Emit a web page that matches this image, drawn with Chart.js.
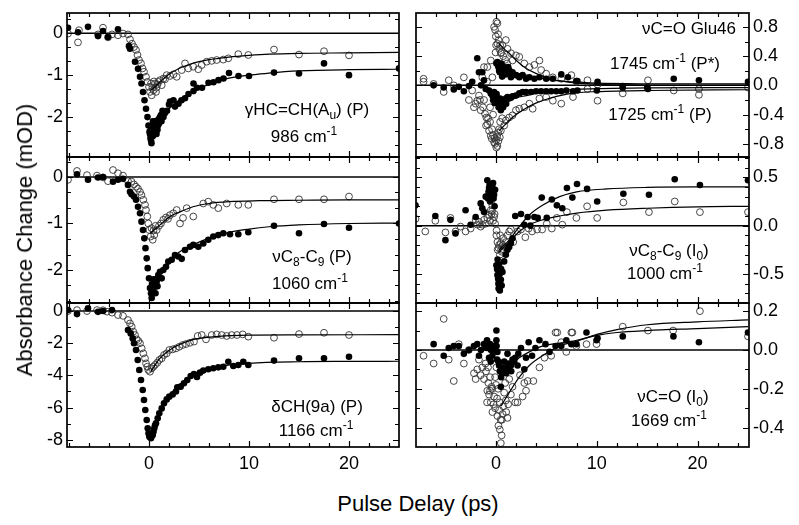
<!DOCTYPE html>
<html><head><meta charset="utf-8">
<script src="https://cdn.jsdelivr.net/npm/chart.js@4.4.0/dist/chart.umd.min.js"></script>
<style>
html,body{margin:0;padding:0;background:#fff;}
#wrap{position:relative;width:799px;height:525px;overflow:hidden;font-family:"Liberation Sans",Arial,sans-serif;color:#000;background:#fff;}
canvas{position:absolute;}
.ann{position:absolute;white-space:nowrap;font-size:17px;line-height:17px;transform:translateX(-50%);}
.ann sub,.ann sup{font-size:12px;line-height:0;position:relative;vertical-align:baseline;}
.ann sub{top:4px;}
.ann sup{top:-7px;}
.title{position:absolute;white-space:nowrap;font-size:22px;line-height:22px;}
</style></head>
<body><div id="wrap">
<canvas id="cL1"></canvas><canvas id="cL2"></canvas><canvas id="cL3"></canvas>
<canvas id="cR1"></canvas><canvas id="cR2"></canvas><canvas id="cR3"></canvas>
<div class="ann" style="left:307px;top:101px">γHC=CH(A<sub>u</sub>) (P)</div>
<div class="ann" style="left:304px;top:128px">986 cm<sup>-1</sup></div>
<div class="ann" style="left:312px;top:248px">νC<sub>8</sub>-C<sub>9</sub> (P)</div>
<div class="ann" style="left:310px;top:275px">1060 cm<sup>-1</sup></div>
<div class="ann" style="left:317px;top:398px">δCH(9a) (P)</div>
<div class="ann" style="left:316px;top:422px">1166 cm<sup>-1</sup></div>
<div class="ann" style="left:689px;top:20px">νC=O Glu46</div>
<div class="ann" style="left:665px;top:55px">1745 cm<sup>-1</sup> (P*)</div>
<div class="ann" style="left:660px;top:106px">1725 cm<sup>-1</sup> (P)</div>
<div class="ann" style="left:669px;top:242px">νC<sub>8</sub>-C<sub>9</sub> (I<sub>0</sub>)</div>
<div class="ann" style="left:665px;top:265px">1000 cm<sup>-1</sup></div>
<div class="ann" style="left:673px;top:388px">νC=O (I<sub>0</sub>)</div>
<div class="ann" style="left:669px;top:412px">1669 cm<sup>-1</sup></div>
<div class="title" style="left:25px;top:240px;transform:translate(-50%,-50%) rotate(-90deg);">Absorbance Change (mOD)</div>
<div class="title" style="left:418px;top:493px;transform:translateX(-50%);">Pulse Delay (ps)</div>
</div>
<script>
// ---------- tick values ----------
const xMajor = [0, 10, 20];
const xMinor = [-8, -6, -4, -2, 2, 4, 6, 8, 12, 14, 16, 18, 22, 24];
const L1Major = [0, -1, -2];
const L1Minor = [0.333, -0.333, -0.667, -1.333, -1.667, -2.333, -2.667];
const L2Major = [0, -1, -2];
const L2Minor = [0.333, -0.333, -0.667, -1.333, -1.667, -2.333, -2.667];
const L3Major = [0, -2, -4, -6, -8];
const L3Minor = [-1, -3, -5, -7];
const R1Major = [0.8, 0.4, 0, -0.4, -0.8];
const R1Minor = [0.6, 0.2, -0.2, -0.6];
const R2Major = [0.5, 0, -0.5];
const R2Minor = [0.7, 0.6, 0.4, 0.3, 0.2, 0.1, -0.1, -0.2, -0.3, -0.4, -0.6, -0.7];
const R3Major = [0.2, 0, -0.2, -0.4];
const R3Minor = [0.1, -0.1, -0.3];

// ---------- data: [delay ps, absorbance change] ----------
// Left 1: gamma HC=CH (986 cm-1)
const L1Filled = [[-8.1,0.13],[-7.1,0.02],[-6.1,0.15],[-5.1,-0.07],[-4.6,0.05],[-4.1,-0.09],[-3.1,0.09],
[-2.0,-0.31],[-1.9,-0.37],[-1.4,-0.68],[-1.1,-0.85],[-0.9,-1.04],[-0.75,-1.2],[-0.6,-1.4],[-0.45,-1.6],[-0.3,-1.8],
[-0.15,-2.0],[-0.05,-2.2],[0.05,-2.35],[0.1,-2.4],[0.15,-2.5],[0.2,-2.3],[0.2,-2.55],[0.25,-2.62],[0.3,-2.45],
[0.3,-2.2],[0.35,-2.3],[0.4,-2.45],[0.4,-2.1],[0.45,-2.2],[0.5,-2.28],[0.55,-2.38],[0.6,-2.1],[0.65,-2.25],
[0.7,-2.3],[0.75,-2.4],[0.8,-2.15],[0.85,-2.3],[0.9,-2.2],[0.95,-2.05],[1.0,-2.15],[1.1,-2.0],[1.2,-1.95],
[1.25,-2.1],[1.35,-1.85],[1.45,-2.0],[1.6,-1.9],[1.8,-1.85],[2.0,-1.7],[2.1,-1.63],[2.45,-1.6],[2.6,-1.75],
[2.95,-1.68],[3.25,-1.6],[3.6,-1.55],[3.95,-1.45],[4.45,-1.38],[4.45,-1.2],[4.8,-1.3],[5.3,-1.3],[5.95,-1.18],
[6.45,-1.17],[6.95,-1.12],[7.45,-1.08],[8.0,-0.95],[8.95,-1.02],[10.0,-1.02],[12.5,-0.94],[15,-0.96],[17.5,-0.72],
[20,-1.0],[25,-0.84]];
const L1Open = [[-8.1,-0.01],[-7.1,-0.22],[-7.0,0.07],[-5.1,-0.03],[-4.6,0.13],[-4.1,-0.1],[-3.7,-0.03],[-3.1,-0.05],
[-2.6,-0.01],[-2.1,-0.03],[-1.9,-0.15],[-1.7,-0.25],[-1.5,-0.33],[-1.3,-0.4],[-1.15,-0.52],[-1.0,-0.64],[-0.8,-0.72],
[-0.65,-0.84],[-0.5,-0.92],[-0.3,-1.04],[-0.15,-1.16],[0.0,-1.28],[0.1,-1.4],[0.2,-1.2],[0.27,-1.48],[0.35,-1.3],
[0.45,-1.36],[0.5,-1.15],[0.6,-1.2],[0.7,-1.4],[0.75,-1.3],[0.85,-1.22],[0.93,-1.16],[1.1,-1.12],[1.27,-1.24],
[1.45,-1.08],[1.6,-1.1],[1.77,-1.0],[2.1,-1.02],[2.45,-0.98],[2.77,-1.04],[3.27,-0.88],[3.6,-0.72],[3.93,-0.84],
[4.43,-0.8],[4.93,-0.86],[5.27,-0.76],[5.77,-0.68],[6.27,-0.66],[6.77,-0.64],[7.43,-0.63],[7.93,-0.6],[8.93,-0.5],
[9.93,-0.52],[12.5,-0.39],[15,-0.51],[17.5,-0.43],[20,-0.53]];
const L1FitFilled = [[0.6,-2.25],[1.0,-2.08],[1.5,-1.95],[2,-1.8],[3,-1.6],[4,-1.44],[5,-1.32],[6,-1.22],[7,-1.13],
[8,-1.07],[9,-1.03],[10,-1.0],[12,-0.95],[15,-0.9],[20,-0.87],[25,-0.86]];
const L1FitOpen = [[0.2,-1.35],[0.5,-1.3],[1,-1.18],[1.5,-1.08],[2,-0.98],[3,-0.84],[4,-0.75],[5,-0.68],[6,-0.63],
[7,-0.6],[8,-0.57],[10,-0.53],[12,-0.5],[15,-0.48],[20,-0.47],[25,-0.46]];

// Left 2: nu C8-C9 (1060 cm-1)
const L2Filled = [[-7.2,0.06],[-6.1,-0.06],[-5.1,-0.01],[-4.6,0.0],[-3.6,-0.1],[-3.1,-0.06],[-2.6,-0.04],[-2.1,-0.17],
[-1.9,-0.32],[-1.75,-0.37],[-1.5,-0.42],[-1.3,-0.49],[-1.1,-0.64],[-0.9,-0.78],[-0.75,-0.96],[-0.6,-1.14],[-0.47,-1.32],
[-0.35,-1.53],[-0.23,-1.75],[-0.13,-1.96],[0.0,-2.18],[0.1,-2.39],[0.2,-2.5],[0.27,-2.6],[0.3,-2.3],[0.35,-2.45],
[0.43,-2.47],[0.45,-2.2],[0.5,-2.3],[0.6,-2.36],[0.65,-2.5],[0.7,-2.2],[0.77,-2.25],[0.85,-2.35],[0.93,-2.11],
[1.1,-2.04],[1.27,-2.18],[1.43,-2.0],[1.7,-1.93],[1.93,-1.82],[2.27,-1.78],[2.6,-1.68],[2.93,-1.71],[3.27,-1.76],
[3.6,-1.57],[4.1,-1.5],[4.43,-1.46],[4.93,-1.5],[5.43,-1.43],[5.93,-1.35],[6.43,-1.28],[6.93,-1.25],[7.43,-1.21],
[8.1,-1.23],[8.93,-1.23],[9.93,-1.19],[12.5,-1.05],[15,-1.21],[17.5,-1.01],[20,-1.09],[25,-1.0]];
const L2Open = [[-8.1,-0.06],[-7.2,0.13],[-6.2,0.04],[-5.2,0.03],[-4.6,-0.01],[-4.1,-0.09],[-3.6,0.15],[-3.1,0.08],
[-2.6,0.03],[-2.1,-0.09],[-1.75,-0.1],[-1.5,-0.16],[-1.3,-0.21],[-1.1,-0.25],[-0.9,-0.32],[-0.75,-0.39],[-0.57,-0.49],
[-0.4,-0.6],[-0.3,-0.71],[-0.17,-0.85],[-0.07,-1.0],[0.03,-1.14],[0.17,-1.28],[0.25,-1.1],[0.37,-1.35],[0.45,-1.15],
[0.53,-1.25],[0.65,-1.05],[0.77,-1.14],[1.0,-1.05],[1.2,-1.0],[1.43,-0.92],[1.7,-0.87],[1.9,-0.9],[2.1,-0.82],
[2.43,-0.78],[2.77,-0.71],[3.1,-1.0],[3.4,-0.88],[3.77,-0.67],[4.43,-0.85],[5.43,-0.57],[5.93,-0.53],[6.43,-0.6],
[6.93,-0.67],[7.77,-0.57],[8.93,-0.6],[9.93,-0.6],[12.5,-0.48],[15,-0.48],[17.5,-0.48],[20,-0.42]];
const L2FitFilled = [[0.8,-2.15],[1.1,-2.04],[2,-1.8],[3,-1.62],[4,-1.5],[5,-1.4],[6,-1.32],[7,-1.25],[8,-1.19],
[10,-1.12],[12,-1.07],[15,-1.03],[20,-1.0],[25,-0.99]];
const L2FitOpen = [[0.1,-1.21],[0.5,-1.14],[1.1,-1.03],[2.1,-0.85],[3.1,-0.75],[4.4,-0.64],[6,-0.57],[8,-0.53],
[11,-0.51],[15,-0.5],[20,-0.49],[25,-0.49]];

// Left 3: delta CH(9a) (1166 cm-1)
const L3Filled = [[-8.1,0.06],[-7.2,-0.19],[-6.1,0.17],[-5.1,-0.05],[-4.6,0.0],[-3.7,0.06],[-2.1,-1.18],[-1.83,-1.39],
[-1.63,-1.7],[-1.5,-2.0],[-1.3,-2.42],[-1.13,-3.04],[-0.97,-3.66],[-0.8,-4.29],[-0.63,-4.91],[-0.5,-5.53],[-0.37,-6.15],
[-0.23,-6.77],[-0.13,-7.29],[-0.05,-7.6],[0.03,-7.8],[0.1,-7.85],[0.2,-7.9],[0.3,-7.75],[0.37,-7.7],[0.45,-7.5],
[0.53,-7.29],[0.6,-7.1],[0.7,-6.98],[0.87,-6.67],[1.03,-6.36],[1.27,-6.05],[1.5,-5.73],[1.77,-5.49],[2.03,-5.32],
[2.37,-5.18],[2.7,-5.0],[2.83,-4.74],[3.17,-4.7],[3.5,-4.49],[3.83,-4.29],[4.17,-4.04],[4.5,-3.91],[4.8,-4.1],
[5.1,-3.83],[5.43,-3.7],[5.93,-3.62],[6.43,-3.56],[6.93,-3.5],[7.43,-3.46],[7.93,-3.15],[8.43,-3.42],[8.93,-3.35],
[9.43,-3.15],[9.93,-3.35],[12.5,-3.08],[15,-2.94],[17.5,-2.94],[20,-2.84]];
const L3Open = [[-8.1,0.0],[-7.2,0.06],[-6.2,0.0],[-5.2,0.06],[-4.6,0.05],[-4.2,-0.04],[-3.7,-0.1],[-3.1,-0.25],
[-2.6,-0.3],[-2.1,-0.56],[-1.9,-0.77],[-1.73,-0.97],[-1.57,-1.28],[-1.4,-1.49],[-1.23,-1.76],[-1.07,-1.85],[-0.9,-2.0],
[-0.73,-2.32],[-0.57,-2.63],[-0.4,-2.94],[-0.3,-3.25],[-0.17,-3.46],[-0.07,-3.66],[0.1,-3.77],[0.27,-3.56],[0.43,-3.46],
[0.6,-3.35],[0.83,-3.21],[1.03,-3.04],[1.27,-2.94],[1.5,-2.73],[1.77,-2.63],[2.03,-2.42],[2.37,-2.38],[2.7,-2.32],
[3.03,-2.22],[3.37,-2.11],[3.7,-2.05],[4.1,-1.97],[4.5,-1.9],[4.87,-1.55],[5.27,-1.49],[5.7,-1.76],[6.27,-1.49],
[6.77,-1.45],[7.27,-1.49],[7.77,-1.55],[8.27,-1.49],[8.8,-1.49],[9.37,-1.45],[9.93,-1.59],[12.5,-1.66],[15,-1.43],
[17.5,-1.35],[20,-1.49]];
const L3FitFilled = [[0.3,-7.85],[1,-6.4],[2,-5.3],[3,-4.6],[4,-4.1],[5,-3.8],[7,-3.45],[10,-3.25],[15,-3.15],
[20,-3.13],[25,-3.12]];
const L3FitOpen = [[0.2,-3.75],[1,-3.0],[2,-2.45],[3,-2.1],[4,-1.85],[5,-1.7],[7,-1.57],[10,-1.5],[15,-1.48],[25,-1.47]];

// Right 1: nu C=O Glu46 (1745 / 1725 cm-1)
const R1Filled = [[-6.2,0.0],[-5.2,-0.03],[-4.2,-0.055],[-3.7,-0.02],[-3.2,-0.08],[-2.7,-0.01],[-2.37,0.05],[-1.87,0.37],
[-1.7,0.18],[-1.5,0.0],[-1.37,0.18],[-1.2,0.07],[-1.03,-0.05],[-0.7,-0.07],[-0.53,-0.11],[-0.37,-0.14],[-0.3,-0.2],
[-0.2,-0.09],[-0.15,-0.24],[-0.1,-0.15],[0.03,0.3],[0.05,-0.12],[0.13,0.32],[0.2,0.28],[0.23,0.25],[0.3,0.2],
[0.37,0.18],[0.47,0.23],[0.5,0.3],[0.6,0.12],[0.63,0.16],[0.7,0.26],[0.8,0.21],[0.9,0.15],[0.97,0.23],[1.13,0.16],
[1.2,0.25],[1.3,0.21],[1.47,0.11],[1.63,0.18],[1.97,0.14],[2.3,0.11],[2.63,0.14],[2.97,0.09],[3.3,0.11],[3.8,0.09],
[4.3,0.11],[4.97,0.09],[5.63,0.09],[6.47,0.15],[7.13,0.11],[7.97,0.06],[8.07,0.06],[10.07,0.05],[12.57,-0.01],
[15.07,-0.05],[17.63,0.09],[20.13,0.07],[25.0,0.05],
[0.13,-0.21],[0.25,-0.3],[0.3,-0.25],[0.4,-0.18],[0.47,-0.34],[0.63,-0.28],[0.7,-0.3],[0.8,-0.23],[0.97,-0.18],
[1.0,-0.25],[1.13,-0.16],[1.3,-0.18],[1.47,-0.17],[1.63,-0.15],[1.97,-0.14],[2.3,-0.11],[2.63,-0.09],[2.97,-0.09],
[3.47,-0.09],[3.97,-0.08],[4.47,-0.08],[4.97,-0.08],[5.47,-0.08],[5.97,-0.08],[6.47,-0.08],[6.97,-0.07],[7.63,-0.08],
[8.07,-0.07],[10.0,-0.07],[12.57,-0.03],[15.0,-0.03]];
const R1Open = [[-7.2,0.09],[-7.2,0.05],[-6.2,0.02],[-5.2,-0.09],[-4.7,0.07],[-4.2,0.0],[-3.2,0.11],[-2.7,-0.2],
[-2.37,-0.07],[-2.2,-0.3],[-2.03,-0.25],[-1.87,-0.21],[-1.7,-0.14],[-1.6,-0.2],[-1.53,-0.34],[-1.37,0.11],[-1.3,-0.3],
[-1.2,0.25],[-1.2,-0.2],[-1.1,-0.39],[-1.0,-0.55],[-0.97,-0.44],[-0.9,0.05],[-0.87,-0.53],[-0.87,0.25],[-0.8,-0.45],
[-0.7,-0.62],[-0.6,-0.5],[-0.6,-0.3],[-0.53,-0.69],[-0.53,0.34],[-0.43,-0.73],[-0.4,-0.6],[-0.37,0.11],[-0.3,-0.68],
[-0.3,-0.4],[-0.2,-0.78],[-0.2,0.8],[-0.15,-0.72],[-0.1,-0.8],[-0.1,0.76],[-0.05,0.45],[-0.03,0.67],[0.0,-0.75],
[0.0,0.55],[0.03,-0.85],[0.03,0.87],[0.1,-0.7],[0.13,-0.83],[0.13,0.85],[0.13,0.57],[0.2,-0.65],[0.2,0.7],
[0.23,-0.76],[0.25,0.62],[0.3,0.5],[0.3,-0.6],[0.37,-0.71],[0.4,-0.5],[0.4,0.55],[0.47,-0.62],[0.47,0.44],[0.5,0.45],
[0.6,-0.45],[0.63,0.55],[0.7,0.4],[0.8,-0.55],[0.9,0.35],[0.97,-0.48],[0.97,0.62],[1.1,0.3],[1.13,0.5],[1.3,-0.44],
[1.47,0.44],[1.63,-0.41],[1.63,0.34],[1.97,-0.34],[1.97,0.41],[2.3,-0.32],[2.3,0.39],[2.8,-0.3],[2.8,0.3],[3.3,-0.25],
[3.3,0.25],[3.63,-0.32],[3.8,0.28],[4.3,-0.18],[4.3,0.34],[4.47,0.21],[4.97,-0.16],[4.97,0.16],[5.63,-0.21],[5.63,0.11],
[6.47,-0.25],[6.47,0.09],[7.47,0.14],[7.63,-0.16],[7.97,0.05],[9.07,0.07],[9.07,-0.05],[10.07,0.01],[10.07,-0.21],
[12.57,-0.11],[15.07,0.07],[17.63,-0.07],[20.13,-0.05],[20.13,-0.13],[25.0,-0.03]];
const R1FitOpenPos = [[0.3,0.57],[0.8,0.5],[1.3,0.44],[2,0.34],[3,0.23],[4,0.16],[5,0.11],[6,0.07],[8,0.03],
[10,0.015],[15,0.005],[25,0.0]];
const R1FitFilledPos = [[0.3,0.28],[1.3,0.21],[2,0.17],[3,0.14],[4,0.11],[5,0.085],[6,0.065],[8,0.045],[10,0.03],
[15,0.022],[25,0.02]];
const R1FitFilledNeg = [[0.3,-0.25],[1.3,-0.21],[2,-0.17],[3,-0.14],[4,-0.11],[5,-0.09],[6,-0.075],[8,-0.055],
[10,-0.045],[15,-0.035],[25,-0.03]];
const R1FitOpenNeg = [[0.3,-0.62],[0.8,-0.55],[1.3,-0.48],[2,-0.4],[3,-0.31],[4,-0.24],[5,-0.19],[6,-0.15],[8,-0.1],
[10,-0.085],[15,-0.07],[25,-0.06]];

// Right 2: nu C8-C9 (I0) 1000 cm-1
const R2Filled = [[-8.0,0.21],[-6.03,0.1],[-5.03,-0.15],[-4.53,0.06],[-4.03,-0.08],[-3.03,0.16],[-2.53,0.01],[-2.03,0.09],
[-1.53,0.23],[-1.37,0.18],[-1.2,0.14],[-1.03,0.3],[-0.9,0.3],[-0.87,0.47],[-0.8,0.28],[-0.75,0.35],[-0.7,0.39],
[-0.65,0.42],[-0.6,0.25],[-0.53,0.35],[-0.45,0.3],[-0.37,0.4],[-0.3,0.44],[-0.25,0.28],[-0.2,0.32],[-0.15,0.2],
[-0.1,0.37],[0.03,-0.41],[0.1,-0.45],[0.13,-0.51],[0.15,-0.35],[0.2,-0.55],[0.23,-0.6],[0.25,-0.65],[0.3,-0.54],
[0.3,-0.4],[0.35,-0.5],[0.37,-0.67],[0.4,-0.6],[0.47,-0.56],[0.5,-0.45],[0.55,-0.62],[0.63,-0.48],[0.8,-0.37],
[0.97,-0.3],[1.13,-0.25],[1.3,-0.22],[1.47,-0.18],[1.63,-0.13],[1.9,0.1],[2.47,0.12],[2.8,0.01],[3.13,0.09],[3.4,0.0],
[3.8,0.09],[4.13,0.08],[4.53,0.29],[5.03,0.08],[5.53,0.27],[6.03,0.21],[6.57,0.18],[7.03,0.39],[7.57,0.29],[8.03,0.43],
[9.03,0.38],[10.03,0.25],[12.63,0.33],[15.17,0.32],[17.73,0.48],[20.23,0.42],[25.0,0.47]];
const R2Open = [[-8.0,0.07],[-7.03,-0.06],[-6.03,0.05],[-5.03,-0.07],[-4.53,0.08],[-4.03,-0.06],[-3.53,-0.01],
[-3.03,-0.06],[-2.53,-0.03],[-2.03,0.06],[-1.85,0.01],[-1.7,0.04],[-1.53,-0.01],[-1.37,0.01],[-1.2,0.06],[-1.03,0.02],
[-0.87,0.08],[-0.7,0.11],[-0.6,0.05],[-0.53,0.16],[-0.45,0.12],[-0.4,0.15],[-0.37,0.21],[-0.3,0.05],[-0.2,0.09],
[-0.15,0.12],[-0.1,0.02],[0.03,-0.1],[0.05,-0.05],[0.13,-0.17],[0.15,-0.25],[0.23,-0.23],[0.3,-0.2],[0.37,-0.3],
[0.4,-0.1],[0.47,-0.18],[0.5,-0.25],[0.57,-0.27],[0.65,-0.2],[0.7,-0.13],[0.8,-0.22],[0.97,-0.17],[1.13,-0.1],
[1.3,-0.06],[1.47,-0.04],[1.7,-0.17],[2.13,-0.06],[2.47,-0.04],[2.9,-0.12],[3.23,-0.03],[3.57,-0.06],[4.07,-0.04],
[4.57,-0.04],[5.03,0.02],[5.53,-0.03],[6.03,0.08],[6.57,0.01],[7.03,0.14],[7.97,0.08],[9.03,0.2],[10.03,0.08],
[12.63,0.24],[15.17,0.14],[17.73,0.25],[20.23,0.14],[25.0,0.14]];
const R2FitFilled = [[0.3,-0.25],[1.3,-0.15],[2.3,-0.01],[3.3,0.11],[4.6,0.21],[6.3,0.3],[8,0.35],[11,0.38],
[15,0.395],[20,0.4],[25,0.4]];
const R2FitOpen = [[0.3,-0.27],[1.3,-0.17],[2.3,-0.06],[3.3,0.01],[4.6,0.06],[6.3,0.1],[8,0.13],[11,0.16],
[15,0.18],[20,0.195],[25,0.2]];

// Right 3: nu C=O (I0) 1669 cm-1
const R3Filled = [[-6.2,0.03],[-5.2,-0.03],[-4.7,0.01],[-4.2,0.02],[-3.7,0.02],[-3.2,-0.02],[-2.7,0.0],[-2.2,0.02],
[-1.87,0.03],[-1.7,-0.03],[-1.5,0.0],[-1.2,0.03],[-1.05,0.02],[-0.9,0.05],[-0.9,0.01],[-0.8,0.02],[-0.7,-0.04],
[-0.6,0.03],[-0.53,-0.06],[-0.5,0.0],[-0.37,-0.03],[-0.3,0.02],[-0.2,0.0],[0.03,0.1],[0.03,0.05],[0.05,0.02],
[0.1,-0.05],[0.13,-0.01],[0.23,-0.06],[0.3,-0.08],[0.37,-0.11],[0.47,-0.19],[0.5,-0.14],[0.57,-0.1],[0.6,-0.12],
[0.7,-0.09],[0.8,-0.11],[0.8,-0.06],[0.97,-0.1],[1.0,-0.12],[1.13,-0.02],[1.2,-0.07],[1.3,-0.09],[1.47,-0.08],
[1.5,-0.11],[1.63,-0.05],[1.8,-0.06],[1.9,-0.04],[2.13,-0.08],[2.2,-0.02],[2.47,0.01],[2.8,-0.1],[2.97,-0.04],
[3.23,0.04],[3.57,-0.03],[3.9,0.01],[4.3,0.05],[4.9,0.03],[5.3,-0.01],[5.9,0.02],[6.47,0.02],[6.97,0.05],[7.47,0.03],
[7.97,0.03],[8.97,0.09],[9.97,0.05],[10.07,0.06],[12.57,0.07],[17.6,0.07],[20.13,0.04],[25.0,0.09]];
const R3Open = [[-7.2,-0.03],[-6.2,-0.07],[-5.2,0.16],[-4.7,-0.05],[-4.2,-0.16],[-3.7,0.03],[-3.2,-0.07],[-2.7,0.0],
[-2.2,-0.12],[-2.03,-0.15],[-1.87,-0.1],[-1.7,-0.05],[-1.53,-0.13],[-1.37,-0.09],[-1.2,-0.15],[-1.05,-0.07],
[-1.0,-0.11],[-0.9,-0.27],[-0.87,-0.21],[-0.8,-0.09],[-0.77,-0.17],[-0.7,-0.23],[-0.6,-0.14],[-0.6,-0.21],[-0.53,-0.27],
[-0.45,-0.19],[-0.4,-0.2],[-0.37,-0.32],[-0.25,-0.28],[-0.2,-0.24],[-0.1,-0.14],[-0.1,-0.3],[0.0,-0.18],[0.03,-0.09],
[0.1,-0.25],[0.13,-0.34],[0.2,-0.2],[0.23,-0.39],[0.3,-0.31],[0.35,-0.27],[0.37,-0.41],[0.45,-0.36],[0.47,-0.48],
[0.55,-0.44],[0.57,-0.36],[0.65,-0.33],[0.7,-0.29],[0.8,-0.22],[0.9,-0.17],[0.97,-0.26],[1.0,-0.32],[1.13,-0.35],
[1.2,-0.28],[1.3,-0.15],[1.47,-0.23],[1.63,-0.19],[1.9,-0.27],[2.13,-0.27],[2.37,-0.13],[2.63,-0.24],[2.8,-0.17],
[2.97,-0.21],[3.13,-0.16],[3.7,-0.16],[4.3,-0.09],[4.8,-0.04],[5.47,-0.03],[5.9,0.09],[6.07,0.09],[6.47,0.04],
[6.97,-0.01],[7.47,0.09],[7.57,0.09],[7.97,0.02],[8.97,0.03],[9.97,0.03],[12.57,0.12],[15.07,0.1],[17.57,0.1],
[20.23,0.2],[25.0,0.07]];
const R3FitOpen = [[0.47,-0.29],[1.3,-0.22],[2.3,-0.14],[3.3,-0.08],[4.6,-0.03],[6.3,0.02],[8,0.045],[10,0.08],
[12,0.105],[15,0.13],[20,0.145],[25,0.155]];
const R3FitFilled = [[0.3,-0.11],[1.3,-0.08],[2.3,-0.04],[3.3,-0.01],[4.6,0.02],[6.3,0.035],[8,0.05],[10,0.075],
[12,0.09],[15,0.1],[20,0.11],[25,0.12]];

// ---------- drawing ----------
const FONT = '"Liberation Sans", Arial, sans-serif';
const toXY = arr => arr.map(p => ({x: p[0], y: p[1]}));
const noPad = s => { s.paddingTop = 0; s.paddingBottom = 0; s.paddingLeft = 0; s.paddingRight = 0; };

const framePlugin = {
  id: 'frame',
  beforeDatasetsDraw(chart) {
    const {ctx, chartArea: a, scales: {y}} = chart;
    const py = y.getPixelForValue(0);
    ctx.save();
    ctx.strokeStyle = '#000'; ctx.lineWidth = 1.5;
    ctx.beginPath(); ctx.moveTo(a.left, py); ctx.lineTo(a.right, py); ctx.stroke();
    ctx.restore();
  },
  afterDatasetsDraw(chart, args, opts) {
    const {ctx, chartArea: a, scales: {x, y}} = chart;
    ctx.save();
    ctx.strokeStyle = '#000';
    ctx.lineWidth = 1.2;
    const xt = (vals, len) => vals.forEach(v => {
      const px = Math.round(x.getPixelForValue(v)) + 0.5;
      if (px < a.left || px > a.right) return;
      ctx.beginPath();
      ctx.moveTo(px, a.bottom); ctx.lineTo(px, a.bottom - len);
      ctx.moveTo(px, a.top); ctx.lineTo(px, a.top + len);
      ctx.stroke();
    });
    const yt = (vals, len) => vals.forEach(v => {
      const py = Math.round(y.getPixelForValue(v)) + 0.5;
      if (py < a.top || py > a.bottom) return;
      ctx.beginPath();
      ctx.moveTo(a.left, py); ctx.lineTo(a.left + len, py);
      ctx.moveTo(a.right, py); ctx.lineTo(a.right - len, py);
      ctx.stroke();
    });
    xt(xMajor, 6); xt(xMinor, 4);
    yt(opts.yMajor, 6); yt(opts.yMinor, 4);
    ctx.lineWidth = 1.7;
    ctx.strokeRect(a.left, a.top, a.right - a.left, a.bottom - a.top);
    ctx.restore();
  }
};

function makePanel(id, p) {
  const cv = document.getElementById(id);
  const isLeft = p.side === 'left';
  const padTop = 4;
  const xH = p.showX ? 36 : 0;
  const padBottom = p.showX ? 0 : 4;
  const cw = isLeft ? 402 : 387;
  const cl = isLeft ? 0 : 412;
  const ch = (p.bottom - p.top) + padTop + xH + padBottom;
  cv.width = cw; cv.height = ch;
  cv.style.left = cl + 'px'; cv.style.top = (p.top - padTop) + 'px';
  cv.style.width = cw + 'px'; cv.style.height = ch + 'px';
  const yW = isLeft ? 67 : 50;
  const xr = isLeft ? [-8.2, 25] : [-7.95, 25.1];
  const datasets = [];
  p.fits.forEach(f => datasets.push({data: toXY(f), showLine: true, borderColor: '#000', borderWidth: 1.2,
    pointRadius: 0, fill: false, cubicInterpolationMode: 'monotone', order: 1}));
  datasets.push({data: toXY(p.filled), pointRadius: 3.3, backgroundColor: '#000', borderColor: '#000',
    borderWidth: 0, showLine: false, order: 0});
  datasets.push({data: toXY(p.open), pointRadius: 3.4, backgroundColor: 'rgba(255,255,255,0)', borderColor: '#333',
    borderWidth: 0.9, showLine: false, order: 2});
  new Chart(cv, {
    type: 'scatter',
    data: {datasets},
    options: {
      responsive: false, animation: false, devicePixelRatio: 1,
      events: [],
      layout: {autoPadding: false, padding: {left: isLeft ? 0 : 4, right: isLeft ? 3 : 0, top: padTop, bottom: padBottom}},
      plugins: {legend: {display: false}, tooltip: {enabled: false}, frame: {yMajor: p.yMajor, yMinor: p.yMinor}},
      scales: {
        x: {type: 'linear', position: 'bottom', min: xr[0], max: xr[1],
          grid: {display: false, drawTicks: false}, border: {display: false},
          afterBuildTicks: s => { s.ticks = xMajor.map(v => ({value: v})); },
          afterFit: s => { s.height = xH; noPad(s); },
          ticks: {display: !!p.showX, color: '#000', font: {family: FONT, size: 18}, padding: 6,
            maxRotation: 0, autoSkip: false, callback: v => String(v)}},
        y: {type: 'linear', position: isLeft ? 'left' : 'right', min: p.range[0], max: p.range[1],
          grid: {display: false, drawTicks: false}, border: {display: false},
          afterBuildTicks: s => { s.ticks = p.yMajor.map(v => ({value: v})); },
          afterFit: s => { s.width = yW; noPad(s); },
          ticks: {color: '#000', font: {family: FONT, size: 18}, padding: 4, autoSkip: false,
            callback: v => isLeft ? String(v) : (Math.abs(v) < 1e-9 ? '0.0' : v.toFixed(1))}}
      }
    },
    plugins: [framePlugin]
  });
}

makePanel('cL1', {side: 'left', top: 13, bottom: 157, range: [-2.95, 0.48], yMajor: L1Major, yMinor: L1Minor,
  filled: L1Filled, open: L1Open, fits: [L1FitFilled, L1FitOpen]});
makePanel('cL2', {side: 'left', top: 157, bottom: 303, range: [-2.71, 0.43], yMajor: L2Major, yMinor: L2Minor,
  filled: L2Filled, open: L2Open, fits: [L2FitFilled, L2FitOpen]});
makePanel('cL3', {side: 'left', top: 303, bottom: 447, range: [-8.45, 0.5], yMajor: L3Major, yMinor: L3Minor,
  filled: L3Filled, open: L3Open, fits: [L3FitFilled, L3FitOpen], showX: true});
makePanel('cR1', {side: 'right', top: 13, bottom: 157, range: [-0.98, 0.99], yMajor: R1Major, yMinor: R1Minor,
  filled: R1Filled, open: R1Open, fits: [R1FitOpenPos, R1FitFilledPos, R1FitFilledNeg, R1FitOpenNeg]});
makePanel('cR2', {side: 'right', top: 157, bottom: 303, range: [-0.80, 0.71], yMajor: R2Major, yMinor: R2Minor,
  filled: R2Filled, open: R2Open, fits: [R2FitFilled, R2FitOpen]});
makePanel('cR3', {side: 'right', top: 303, bottom: 447, range: [-0.50, 0.242], yMajor: R3Major, yMinor: R3Minor,
  filled: R3Filled, open: R3Open, fits: [R3FitOpen, R3FitFilled], showX: true});
</script>
</body></html>
